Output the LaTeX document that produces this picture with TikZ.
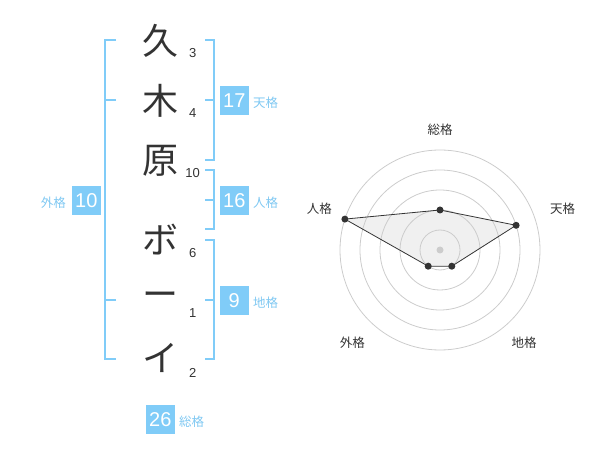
\documentclass[tikz,border=0pt]{standalone}
\usepackage{fontspec}
\setmainfont{Liberation Sans}
\newfontfamily\jp{Noto Sans CJK JP}
\definecolor{brk}{HTML}{80CCF8}
\definecolor{lbl}{HTML}{7FC8F2}
\definecolor{ink}{HTML}{333333}
\definecolor{ring}{HTML}{CCCCCC}
\definecolor{area}{HTML}{F0F0F0}
\begin{document}
\begin{tikzpicture}[x=1pt,y=-1pt,
  kanji/.style={font=\jp\fontsize{36}{36}\selectfont, text=ink, inner sep=0},
  strokes/.style={font=\fontsize{13}{13}\selectfont, text=ink, inner sep=0},
  valbox/.style={fill=brk, text=white, minimum width=29, minimum height=29, inner sep=0, font=\fontsize{20}{20}\selectfont},
  kaku/.style={font=\jp\fontsize{12.5}{12.5}\selectfont, text=lbl, inner sep=0},
  axislbl/.style={font=\jp\fontsize{12.5}{12.5}\selectfont, text=ink, inner sep=0},
  bracket/.style={draw=brk, line width=2pt},
  ringline/.style={draw=ring, line width=0.8pt},
  dot/.style={circle, fill=ink, inner sep=0, minimum size=7}
]
\useasboundingbox (0,0) rectangle (600,470);

% characters
\node[kanji] (c1) at (160,41) {久};
\node[kanji] (c2) at (160,101) {木};
\node[kanji] (c3) at (160,161) {原};
\node[kanji] (c4) at (160,240) {ボ};
\node[kanji] (c5) at (160,300) {ー};
\node[kanji] (c6) at (160,358) {イ};

% stroke counts
\node[strokes] (s1) at (192.7,52.7) {3};
\node[strokes] (s2) at (192.7,113.3) {4};
\node[strokes] (s3) at (192.7,173.3) {10};
\node[strokes] (s4) at (192.7,252.7) {6};
\node[strokes] (s5) at (192.7,313.3) {1};
\node[strokes] (s6) at (192.7,373.3) {2};

% right brackets
\draw[bracket] (205,40) -- (214.3,40) -- (214.3,160) -- (205,160);
\draw[bracket] (205,100) -- (214.3,100);
\draw[bracket] (205,170) -- (214.3,170) -- (214.3,229.5) -- (205,229.5);
\draw[bracket] (205,200) -- (214.3,200);
\draw[bracket] (205,240) -- (214.3,240) -- (214.3,359.5) -- (205,359.5);
\draw[bracket] (205,300) -- (214.3,300);

% left bracket
\draw[bracket] (116,40) -- (105.3,40) -- (105.3,359.5) -- (116,359.5);
\draw[bracket] (116,100) -- (105.3,100);
\draw[bracket] (116,300) -- (105.3,300);

% value boxes
\node[valbox] (ten) at (234.3,100.3) {17};
\node[kaku, anchor=west] (tenl) at (253,103) {天格};
\node[valbox] (jin) at (234.3,200.3) {16};
\node[kaku, anchor=west] (jinl) at (253,203) {人格};
\node[valbox] (chi) at (234.3,300.3) {9};
\node[kaku, anchor=west] (chil) at (253,303) {地格};
\node[valbox] (gai) at (86.3,200.3) {10};
\node[kaku, anchor=east] (gail) at (66,203) {外格};
\node[valbox] (sou) at (160.3,419.3) {26};
\node[kaku, anchor=west] (soul) at (179,422) {総格};

% radar chart
\coordinate (O) at (440,250);
\coordinate (pS) at (440,210);
\coordinate (pT) at (516.1,225.3);
\coordinate (pC) at (451.8,266.2);
\coordinate (pG) at (428.2,266.2);
\coordinate (pJ) at (344.9,219.1);
\fill[area] (pS) -- (pT) -- (pC) -- (pG) -- (pJ) -- cycle;
\foreach \r in {20,40,60,80,100} \draw[ringline] (O) circle[radius=\r];
\fill[ring] (O) circle[radius=3.5];
\draw[draw=ink, line width=0.8pt]
  (pS) -- (pT) -- (pC) -- (pG) -- (pJ) -- cycle;
\foreach \p in {pS,pT,pC,pG,pJ} \node[dot] at (\p) {};

\node[axislbl] (aS) at (440,130) {総格};
\node[axislbl] (aT) at (562.7,208.3) {天格};
\node[axislbl] (aJ) at (319.3,208.3) {人格};
\node[axislbl] (aG) at (352.3,342.3) {外格};
\node[axislbl] (aC) at (524,342.3) {地格};
\end{tikzpicture}
\end{document}
